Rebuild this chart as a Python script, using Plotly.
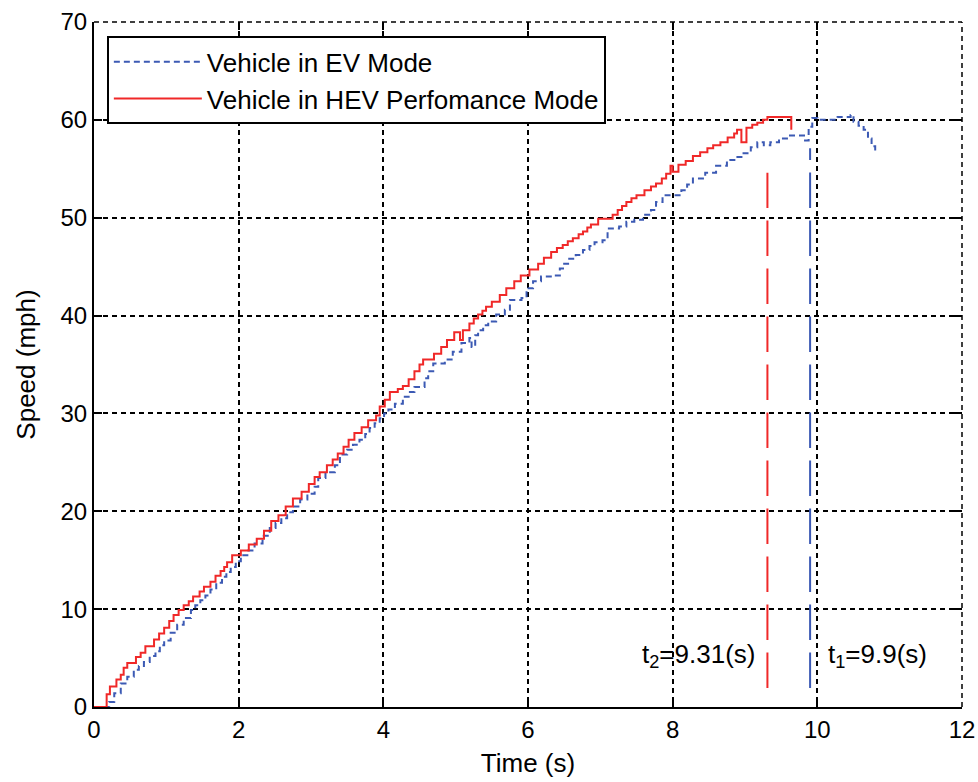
import plotly.graph_objects as go

# ---------------- data ----------------
hev_t = [0, 0.175, 0.22, 0.31, 0.37, 0.41, 0.46, 0.58, 0.645, 0.71, 0.83, 0.9, 0.97, 1.04, 1.1, 1.17,
         1.24, 1.31, 1.37, 1.46, 1.52, 1.61, 1.68, 1.75, 1.8, 1.84, 1.91, 2.03, 2.14, 2.25, 2.35, 2.45,
         2.55, 2.65, 2.75, 2.87, 2.97, 3.05, 3.12, 3.22, 3.3, 3.37, 3.45, 3.52, 3.6, 3.7, 3.79, 3.9,
         3.95, 4.02, 4.09, 4.2, 4.27, 4.35, 4.43, 4.5, 4.55, 4.7, 4.8, 4.88, 4.98, 5.06, 5.1, 5.19,
         5.25, 5.31, 5.37, 5.42, 5.5, 5.61, 5.7, 5.81, 5.9, 6.02, 6.14, 6.22, 6.32, 6.4, 6.48, 6.55,
         6.62, 6.7, 6.76, 6.82, 6.87, 6.97, 7.17, 7.24, 7.3, 7.36, 7.43, 7.5, 7.61, 7.7, 7.77, 7.85,
         7.91, 7.97, 8.0, 8.08, 8.18, 8.28, 8.38, 8.48, 8.56, 8.66, 8.76, 8.85, 8.89, 8.95, 9.02, 9.1,
         9.17, 9.25, 9.31, 9.64]
hev_v = [0, 1.3, 2.1, 2.8, 3.3, 4.0, 4.5, 5.1, 5.55, 6.2, 6.9, 7.5, 8.1, 8.8, 9.4, 9.9,
         10.4, 10.8, 11.3, 11.8, 12.3, 12.8, 13.4, 13.9, 14.3, 14.8, 15.5, 16.0, 16.6, 17.2, 18.0, 19.0,
         19.6, 20.5, 21.3, 22.0, 22.8, 23.5, 24.0, 24.7, 25.3, 25.9, 26.6, 27.3, 28.0, 28.6, 29.3, 29.8,
         30.7, 31.4, 32.2, 32.5, 32.8, 33.5, 34.3, 35.0, 35.5, 36.1, 36.8, 37.5, 38.3, 37.5, 38.5, 39.2,
         39.7, 40.1, 40.5, 40.9, 41.4, 42.1, 42.8, 43.5, 44.1, 44.7, 45.3, 45.9, 46.5, 46.9, 47.2, 47.6,
         47.9, 48.3, 48.6, 49.0, 49.3, 49.9, 50.3, 50.8, 51.2, 51.6, 52.0, 52.3, 52.8, 53.2, 53.5, 54.0,
         54.5, 55.3, 54.7, 55.4, 55.8, 56.3, 56.7, 57.1, 57.4, 57.7, 58.2, 58.6, 59.0, 57.7, 59.2, 59.5,
         59.7, 60.0, 60.3, 59.0]

ev_t = [0, 0.21, 0.28, 0.37, 0.46, 0.55, 0.62, 0.69, 0.77, 0.85, 0.91, 0.97, 1.06, 1.15, 1.24, 1.34,
        1.4, 1.47, 1.54, 1.61, 1.69, 1.77, 1.83, 1.89, 1.96, 2.03, 2.12, 2.22, 2.33, 2.43, 2.51, 2.59,
        2.67, 2.75, 2.85, 2.95, 3.05, 3.1, 3.2, 3.33, 3.4, 3.5, 3.58, 3.67, 3.75, 3.81, 3.88, 3.95,
        4.01, 4.07, 4.16, 4.27, 4.35, 4.43, 4.57, 4.62, 4.69, 4.85, 4.96, 5.08, 5.19, 5.22, 5.27, 5.31,
        5.38, 5.45, 5.56, 5.68, 5.75, 5.91, 5.98, 6.07, 6.18, 6.37, 6.44, 6.5, 6.57, 6.66, 6.76, 6.85,
        6.92, 7.03, 7.1, 7.26, 7.36, 7.47, 7.59, 7.7, 7.77, 7.86, 8.12, 8.2, 8.28, 8.45, 8.6, 8.75,
        8.87, 8.98, 9.08, 9.17, 9.26, 9.35, 9.47, 9.58, 9.83, 9.88, 9.93, 10.0, 10.28, 10.46, 10.5,
        10.57, 10.64, 10.7, 10.75, 10.8]
ev_v = [0, 0.5, 1.4, 2.4, 3.1, 3.8, 4.2, 4.6, 5.2, 5.7, 6.3, 6.8, 7.6, 8.4, 9.1, 9.9,
        10.4, 10.9, 11.4, 12.0, 12.7, 13.3, 13.8, 14.3, 14.9, 15.5, 16.0, 16.7, 17.5, 18.3, 18.8, 19.3,
        19.9, 20.5, 21.2, 21.8, 22.5, 23.4, 24.0, 24.7, 25.8, 26.3, 26.8, 27.3, 27.9, 28.5, 29.0, 29.5,
        30.0, 30.4, 31.0, 31.7, 32.2, 32.7, 33.6, 34.3, 35.1, 35.5, 36.3, 37.2, 37.7, 36.8, 38.0, 38.5,
        39.0, 39.4, 40.1, 40.6, 41.6, 41.8, 42.8, 43.5, 44.0, 44.1, 44.8, 45.3, 45.8, 46.2, 46.7, 47.1,
        47.5, 47.7, 48.9, 49.1, 49.6, 49.8, 50.3, 50.8, 51.6, 52.3, 52.8, 53.4, 54.0, 54.6, 55.3, 55.9,
        56.2, 56.6, 57.2, 57.7, 57.4, 57.7, 58.1, 58.4, 57.9, 59.3, 60.2, 60.0, 60.3, 60.5, 59.8,
        59.4, 59.0, 58.1, 57.3, 56.6]

hev_marker_t = [9.31, 9.31]
hev_marker_v = [1.94, 54.6]
ev_marker_t = [9.9, 9.9]
ev_marker_v = [1.94, 57.1]

x_ticks = [0, 2, 4, 6, 8, 10, 12]
y_ticks = [0, 10, 20, 30, 40, 50, 60, 70]

RED = "#f02828"
BLUE = "#3c5ab4"
FONT = "Liberation Sans, Arial, sans-serif"
MARK_DASH = "35.5px,12.5px"

fig = go.Figure()
fig.add_trace(go.Scatter(x=ev_t, y=ev_v, mode="lines", line_shape="hv",
                         line=dict(color=BLUE, width=2, dash="6px,4px"),
                         name="Vehicle in EV Mode"))
fig.add_trace(go.Scatter(x=hev_t, y=hev_v, mode="lines", line_shape="hv",
                         line=dict(color=RED, width=2),
                         name="Vehicle in HEV Perfomance Mode"))
fig.add_trace(go.Scatter(x=hev_marker_t, y=hev_marker_v, mode="lines",
                         line=dict(color=RED, width=2, dash=MARK_DASH), showlegend=False))
fig.add_trace(go.Scatter(x=ev_marker_t, y=ev_marker_v, mode="lines",
                         line=dict(color=BLUE, width=2, dash=MARK_DASH), showlegend=False))

fig.add_annotation(x=9.17, y=5.3, xref="x", yref="y", text="t<sub>2</sub>=9.31(s)",
                   showarrow=False, xanchor="right", yanchor="middle",
                   font=dict(size=26, color="black", family=FONT))
fig.add_annotation(x=10.12, y=5.3, xref="x", yref="y", text="t<sub>1</sub>=9.9(s)",
                   showarrow=False, xanchor="left", yanchor="middle",
                   font=dict(size=26, color="black", family=FONT))

grid_dash = "5px,4px"
axis_common = dict(showline=True, linecolor="black", linewidth=2, ticks="inside", ticklen=8,
                   tickwidth=1.5, tickcolor="black", showgrid=True, gridcolor="black",
                   gridwidth=1.5, griddash=grid_dash, zeroline=False, automargin=False,
                   tickfont=dict(size=24, color="black", family=FONT))

fig.update_layout(
    width=978, height=782,
    margin=dict(l=94, r=16, t=22, b=75, autoexpand=False),
    plot_bgcolor="white", paper_bgcolor="white",
    font=dict(family=FONT, color="black"),
    xaxis=dict(range=[0, 12], tickvals=x_ticks, ticktext=[str(v) for v in x_ticks],
               title=dict(text="Time (s)", font=dict(size=26), standoff=12), **axis_common),
    yaxis=dict(range=[0, 70], tickvals=y_ticks, ticktext=[str(v) for v in y_ticks],
               title=dict(text="Speed (mph)", font=dict(size=26), standoff=17), **axis_common),
    xaxis2=dict(range=[0, 12], overlaying="x", side="top", tickvals=x_ticks, showticklabels=False,
                ticks="inside", ticklen=8, tickwidth=1.5, tickcolor="black", showgrid=False,
                showline=False, zeroline=False, automargin=False),
    yaxis2=dict(range=[0, 70], overlaying="y", side="right", tickvals=y_ticks, showticklabels=False,
                ticks="inside", ticklen=8, tickwidth=1.5, tickcolor="black", showgrid=False,
                showline=False, zeroline=False, automargin=False),
    legend=dict(x=0.0148, y=0.979, xanchor="left", yanchor="top",
                bgcolor="white", bordercolor="black", borderwidth=2,
                font=dict(size=26, color="black", family=FONT), itemwidth=88),
    showlegend=True,
    shapes=[
        dict(type="line", xref="paper", yref="paper", x0=0, x1=1, y0=1, y1=1,
             line=dict(color="black", width=1.5, dash=grid_dash)),
        dict(type="line", xref="paper", yref="paper", x0=1, x1=1, y0=0, y1=1,
             line=dict(color="black", width=1.5, dash=grid_dash)),
    ],
)
# invisible trace to activate the mirrored tick axes
fig.add_trace(go.Scatter(x=[None], y=[None], xaxis="x2", yaxis="y2", showlegend=False,
                         hoverinfo="skip"))

fig.write_html("out.html")
